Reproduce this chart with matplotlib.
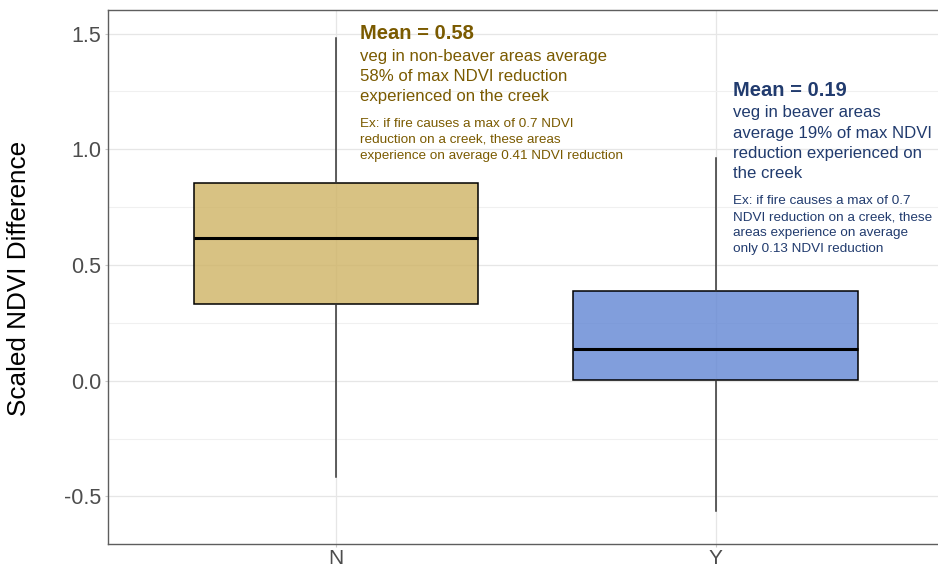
import matplotlib
matplotlib.use("Agg")
import matplotlib.pyplot as plt

plt.rcParams['font.family'] = ['Liberation Sans', 'DejaVu Sans']

# ---- data ----
categories = ["N", "Y"]
whisker_low = [-0.415, -0.563]
q1 = [0.331, 0.003]
median = [0.618, 0.137]
q3 = [0.853, 0.388]
whisker_high = [1.482, 0.961]
fill_colors = ["#CFB364", "#6286D4"]
text_colors = ["#7A5A00", "#213B6E"]
y_ticks = [-0.5, 0.0, 0.5, 1.0, 1.5]
y_label = "Scaled NDVI Difference"

mean_titles = ["Mean = 0.58", "Mean = 0.19"]
body_lines = [
    ["veg in non-beaver areas average", "58% of max NDVI reduction", "experienced on the creek"],
    ["veg in beaver areas", "average 19% of max NDVI", "reduction experienced on", "the creek"],
]
ex_lines = [
    ["Ex: if fire causes a max of 0.7 NDVI", "reduction on a creek, these areas",
     "experience on average 0.41 NDVI reduction"],
    ["Ex: if fire causes a max of 0.7", "NDVI reduction on a creek, these",
     "areas experience on average", "only 0.13 NDVI reduction"],
]

W, H = 938, 570
fig = plt.figure(figsize=(W / 100, H / 100), dpi=100)
ax_left, ax_right, ax_top, ax_bottom = 108.3, 943.5, 10.0, 544.3
ax = fig.add_axes([ax_left / W, 1 - ax_bottom / H, (ax_right - ax_left) / W, (ax_bottom - ax_top) / H])

ax.set_xlim(0.4, 2.6)
ax.set_ylim(-0.707, 1.602)

# grid
ax.set_axisbelow(True)
ax.set_yticks(y_ticks)
ax.set_yticks([-0.25, 0.25, 0.75, 1.25], minor=True)
ax.grid(True, which='major', axis='both', color='#E6E6E6', lw=0.9)
ax.grid(True, which='minor', axis='y', color='#F0F0F0', lw=0.8)

positions = [1, 2]
stats = []
for i, c in enumerate(categories):
    stats.append(dict(label=c, whislo=whisker_low[i], q1=q1[i], med=median[i],
                      q3=q3[i], whishi=whisker_high[i], fliers=[]))
bp = ax.bxp(stats, positions=positions, widths=0.75, patch_artist=True,
            showcaps=False, showfliers=False,
            boxprops=dict(edgecolor='black', linewidth=1.1),
            medianprops=dict(color='black', linewidth=2.2),
            whiskerprops=dict(color='#333333', linewidth=1.1))
for patch, col in zip(bp['boxes'], fill_colors):
    patch.set_facecolor(matplotlib.colors.to_rgba(col, 0.8))
    patch.set_edgecolor('black')

ax.set_xticks(positions)
ax.set_xticklabels(categories)

for sp in ['left', 'bottom', 'top']:
    ax.spines[sp].set_color('#5E5E5E')
    ax.spines[sp].set_linewidth(1.0)
ax.spines['right'].set_visible(False)

ax.tick_params(axis='both', which='major', length=2.5, width=0.8, color='#C8C8C8',
               labelsize=15.5, labelcolor='#4D4D4D', pad=2.5)
ax.tick_params(axis='x', which='major', pad=1.0, labelsize=15)
ax.tick_params(axis='y', which='minor', length=0)
ax.set_yticklabels([f"{v:.1f}" for v in y_ticks])

fig.text(19 / W, 1 - 278 / H, y_label, rotation=90, fontsize=18.8, color='black',
         ha='center', va='center')

# annotations (pixel positions of baselines)
ann = [
    dict(x=360, mean_y=39.3, body_y=[61, 81, 101], ex_y=[126.7, 142.7, 159]),
    dict(x=733.3, mean_y=96, body_y=[117.3, 137.7, 157.7, 177.7], ex_y=[204, 220, 235.7, 251.7]),
]
for i, a in enumerate(ann):
    col = text_colors[i]
    fig.text(a['x'] / W, 1 - a['mean_y'] / H, mean_titles[i], fontsize=14.5,
             fontweight='bold', color=col, ha='left', va='baseline')
    for line, yy in zip(body_lines[i], a['body_y']):
        fig.text(a['x'] / W, 1 - yy / H, line, fontsize=12.1, color=col,
                 ha='left', va='baseline')
    for line, yy in zip(ex_lines[i], a['ex_y']):
        fig.text(a['x'] / W, 1 - yy / H, line, fontsize=9.7, color=col,
                 ha='left', va='baseline')

fig.savefig("out.png", dpi=100, facecolor='white')
